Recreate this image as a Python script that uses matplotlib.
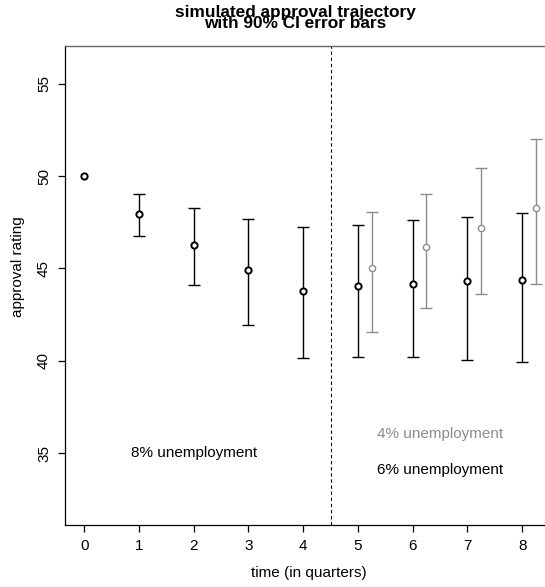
import matplotlib.pyplot as plt

plt.rcParams['font.family'] = ['Liberation Sans', 'DejaVu Sans']

# --- data ---
quarters = [0, 1, 2, 3, 4, 5, 6, 7, 8]
rate8_mean = [50.0, 47.95, 46.25, 44.9, 43.8, 44.05, 44.15, 44.3, 44.4]
rate8_lo = [50.0, 46.75, 44.1, 41.95, 40.15, 40.2, 40.2, 40.05, 39.95]
rate8_hi = [50.0, 49.05, 48.3, 47.7, 47.25, 47.35, 47.6, 47.8, 48.0]

quarters4 = [5, 6, 7, 8]
rate4_mean = [45.05, 46.15, 47.2, 48.3]
rate4_lo = [41.55, 42.85, 43.6, 44.15]
rate4_hi = [48.05, 49.05, 50.45, 52.0]
offset4 = 0.25

gray = '#8c8c8c'

fig = plt.figure(figsize=(5.45, 5.87), dpi=100)
ax = fig.add_axes([65 / 545, 1 - 525 / 587, 490 / 545, 479 / 587])

# error bars for 8% path (from quarter 1 on; quarter 0 is observed)
x8 = quarters[1:]
m8 = rate8_mean[1:]
err8 = [[m - l for m, l in zip(m8, rate8_lo[1:])],
        [h - m for m, h in zip(m8, rate8_hi[1:])]]
ax.errorbar(x8, m8, yerr=err8, fmt='none', ecolor='black',
            elinewidth=1.0, capsize=4, capthick=1.0, zorder=2)

# error bars for 4% path, shifted right
x4 = [q + offset4 for q in quarters4]
err4 = [[m - l for m, l in zip(rate4_mean, rate4_lo)],
        [h - m for m, h in zip(rate4_mean, rate4_hi)]]
ax.errorbar(x4, rate4_mean, yerr=err4, fmt='none', ecolor=gray,
            elinewidth=1.0, capsize=4, capthick=1.0, zorder=2)

# points
ax.plot(quarters, rate8_mean, 'o', ms=4.5, mfc='white', mec='black',
        mew=1.4, zorder=3)
ax.plot(x4, rate4_mean, 'o', ms=4.5, mfc='white', mec=gray,
        mew=1.0, zorder=3)

ax.axvline(4.5, color='black', lw=0.8, ls=(0, (3, 2.5)), zorder=1)

ax.text(2, 35.0, '8% unemployment', ha='center', va='center', fontsize=11)
ax.text(6.5, 36.05, '4% unemployment', ha='center', va='center',
        fontsize=11, color=gray)
ax.text(6.5, 34.1, '6% unemployment', ha='center', va='center', fontsize=11)

ax.set_xlim(-0.35, 8.6)
ax.set_ylim(31.1, 57.05)
ax.set_xticks(range(0, 9))
ax.set_yticks([35, 40, 45, 50, 55])
ax.tick_params(length=5, width=0.9, labelsize=11, pad=5)
for lab in ax.get_yticklabels():
    lab.set_rotation(90)
    lab.set_va('center')

for side in ['left', 'bottom']:
    ax.spines[side].set_color('black')
    ax.spines[side].set_linewidth(0.9)
ax.spines['top'].set_color('#666666')
ax.spines['top'].set_linewidth(1.0)
ax.spines['right'].set_visible(False)

fig.text(18 / 545, 1 - 267 / 587, 'approval rating', rotation=90,
         ha='center', va='center', fontsize=11)
fig.text(309 / 545, 1 - 573 / 587, 'time (in quarters)', ha='center',
         va='center', fontsize=11)
fig.text(295 / 545, 1 - 18 / 587,
         'simulated approval trajectory\nwith 90% CI error bars',
         ha='center', va='center', fontsize=12.4, fontweight='bold',
         linespacing=0.72)

fig.savefig('out.png', dpi=100)
